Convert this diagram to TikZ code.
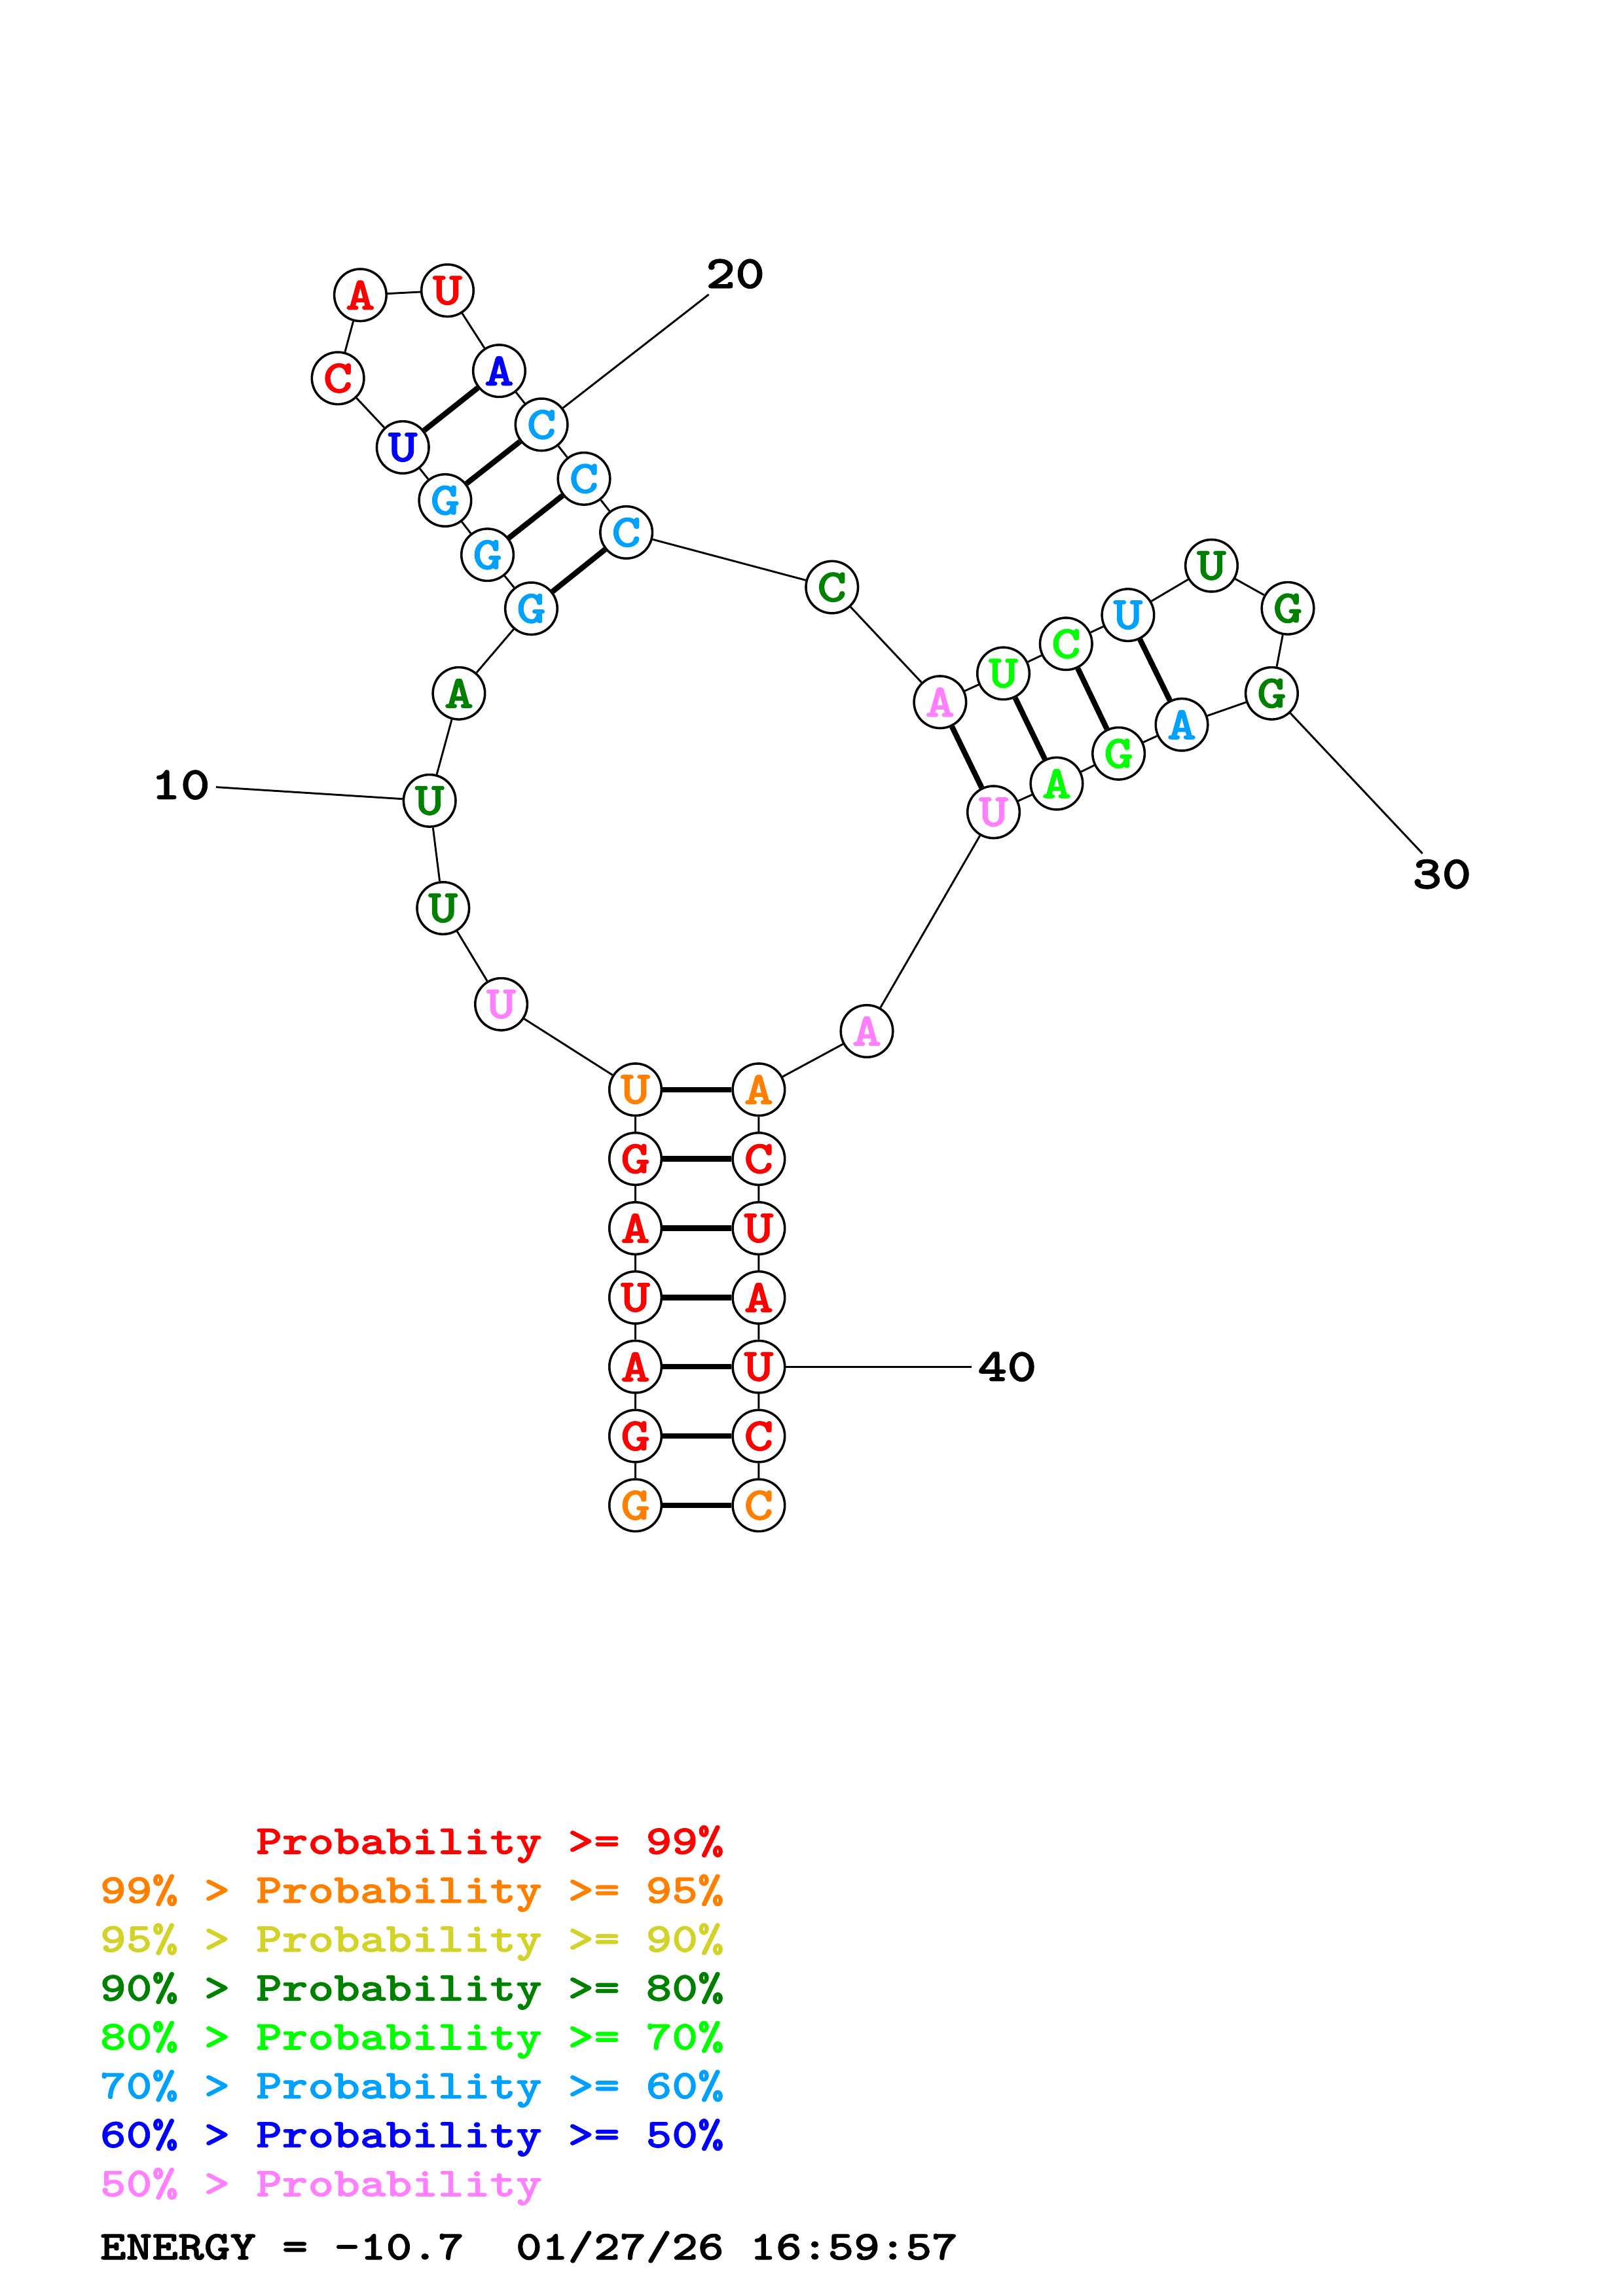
\documentclass[tikz,border=0pt]{standalone}
\usepackage{fontspec}
\newfontfamily\prfont{lmmonolt10-bold.otf}[FakeStretch=1.21, FakeBold=1.5]

\definecolor{pRed}{RGB}{255,0,0}
\definecolor{pOrange}{RGB}{255,128,0}
\definecolor{pYellow}{RGB}{210,210,40}
\definecolor{pDkGreen}{RGB}{0,128,0}
\definecolor{pGreen}{RGB}{0,255,0}
\definecolor{pCyan}{RGB}{0,160,255}
\definecolor{pBlue}{RGB}{0,0,255}
\definecolor{pPink}{RGB}{255,128,255}

\begin{document}
\begin{tikzpicture}[x=0.537pt, y=-0.537pt,
        nt/.style={circle, draw, line width=0.85pt, fill=white, minimum size=19.1pt, inner sep=0pt, font=\prfont\fontsize{17}{17}\selectfont},
        bb/.style={line width=0.7pt},
        bp/.style={line width=2pt},
        numlab/.style={inner sep=2pt, font=\prfont\fontsize{17}{17}\selectfont},
        lgd/.style={anchor=base west, inner sep=0pt, font=\prfont\fontsize{15}{15}\selectfont}]
        \useasboundingbox (0,0) rectangle (1108,1568);

        % stem 1-7, left strand
        \node[nt, text=pOrange] (n1) at (433.8,1028.0) {G};
        \node[nt, text=pRed] (n2) at (433.8,980.7) {G};
        \node[nt, text=pRed] (n3) at (433.8,933.4) {A};
        \node[nt, text=pRed] (n4) at (433.8,886.1) {U};
        \node[nt, text=pRed] (n5) at (433.8,838.8) {A};
        \node[nt, text=pRed] (n6) at (433.8,791.4) {G};
        \node[nt, text=pOrange] (n7) at (433.8,744.1) {U};

        % loop, left side
        \node[nt, text=pPink] (n8) at (342.2,685.8) {U};
        \node[nt, text=pDkGreen] (n9) at (302.5,620.2) {U};
        \node[nt, text=pDkGreen] (n10) at (293.3,546.8) {U};
        \node[nt, text=pDkGreen] (n11) at (313.3,473.5) {A};

        % hairpin 12-22
        \node[nt, text=pCyan] (n12) at (362.7,415.6) {G};
        \node[nt, text=pCyan] (n13) at (332.8,378.9) {G};
        \node[nt, text=pCyan] (n14) at (303.9,341.7) {G};
        \node[nt, text=pBlue] (n15) at (275.0,305.5) {U};
        \node[nt, text=pRed] (n16) at (230.7,258.3) {C};
        \node[nt, text=pRed] (n17) at (246.0,201.5) {A};
        \node[nt, text=pRed] (n18) at (305.5,198.4) {U};
        \node[nt, text=pBlue] (n19) at (340.8,253.3) {A};
        \node[nt, text=pCyan] (n20) at (369.7,290.0) {C};
        \node[nt, text=pCyan] (n21) at (398.7,326.9) {C};
        \node[nt, text=pCyan] (n22) at (427.6,363.6) {C};

        \node[nt, text=pDkGreen] (n23) at (568.0,401.0) {C};

        % hairpin 24-34
        \node[nt, text=pPink] (n24) at (641.8,479.5) {A};
        \node[nt, text=pGreen] (n25) at (685.0,459.9) {U};
        \node[nt, text=pGreen] (n26) at (727.8,439.7) {C};
        \node[nt, text=pCyan] (n27) at (770.1,420.0) {U};
        \node[nt, text=pDkGreen] (n28) at (827.1,386.3) {U};
        \node[nt, text=pDkGreen] (n29) at (879.2,415.4) {G};
        \node[nt, text=pDkGreen] (n30) at (868.2,473.5) {G};
        \node[nt, text=pCyan] (n31) at (806.8,494.9) {A};
        \node[nt, text=pGreen] (n32) at (763.7,514.6) {G};
        \node[nt, text=pGreen] (n33) at (721.4,535.1) {A};
        \node[nt, text=pPink] (n34) at (678.3,554.6) {U};

        \node[nt, text=pPink] (n35) at (591.8,704.2) {A};

        % stem 36-42, right strand
        \node[nt, text=pOrange] (n36) at (518.0,744.1) {A};
        \node[nt, text=pRed] (n37) at (518.0,791.4) {C};
        \node[nt, text=pRed] (n38) at (518.0,838.8) {U};
        \node[nt, text=pRed] (n39) at (518.0,886.1) {A};
        \node[nt, text=pRed] (n40) at (518.0,933.4) {U};
        \node[nt, text=pRed] (n41) at (518.0,980.7) {C};
        \node[nt, text=pOrange] (n42) at (518.0,1028.0) {C};

        % position numbers
        \node[numlab] (lab10) at (123.3,536.0) {10};
        \node[numlab] (lab20) at (502.0,187.0) {20};
        \node[numlab] (lab30) at (984.4,597.0) {30};
        \node[numlab] (lab40) at (687.6,933.4) {40};

        % backbone
        \draw[bb] (n1) -- (n2) -- (n3) -- (n4) -- (n5) -- (n6) -- (n7) -- (n8) -- (n9) -- (n10) -- (n11);
        \draw[bb] (n11) -- (n12) -- (n13) -- (n14) -- (n15) -- (n16) -- (n17) -- (n18) -- (n19) -- (n20) -- (n21) -- (n22);
        \draw[bb] (n22) -- (n23) -- (n24) -- (n25) -- (n26) -- (n27) -- (n28) -- (n29) -- (n30) -- (n31) -- (n32) -- (n33) -- (n34);
        \draw[bb] (n34) -- (n35) -- (n36) -- (n37) -- (n38) -- (n39) -- (n40) -- (n41) -- (n42);

        % base pairs
        \draw[bp] (n1) -- (n42);
        \draw[bp] (n2) -- (n41);
        \draw[bp] (n3) -- (n40);
        \draw[bp] (n4) -- (n39);
        \draw[bp] (n5) -- (n38);
        \draw[bp] (n6) -- (n37);
        \draw[bp] (n7) -- (n36);
        \draw[bp] (n12) -- (n22);
        \draw[bp] (n13) -- (n21);
        \draw[bp] (n14) -- (n20);
        \draw[bp] (n15) -- (n19);
        \draw[bp] (n24) -- (n34);
        \draw[bp] (n25) -- (n33);
        \draw[bp] (n26) -- (n32);
        \draw[bp] (n27) -- (n31);

        % number ticks
        \draw[bb] (n10) -- (lab10);
        \draw[bb] (n20) -- (lab20);
        \draw[bb] (n30) -- (lab30);
        \draw[bb] (n40) -- (lab40);

        % legend
        \node[lgd, text=pRed] (leg1) at (68,1266.0) {\phantom{99\% > }Probability >= 99\%};
        \node[lgd, text=pOrange] (leg2) at (68,1299.4) {99\% > Probability >= 95\%};
        \node[lgd, text=pYellow] (leg3) at (68,1332.8) {95\% > Probability >= 90\%};
        \node[lgd, text=pDkGreen] (leg4) at (68,1366.2) {90\% > Probability >= 80\%};
        \node[lgd, text=pGreen] (leg5) at (68,1399.6) {80\% > Probability >= 70\%};
        \node[lgd, text=pCyan] (leg6) at (68,1433.0) {70\% > Probability >= 60\%};
        \node[lgd, text=pBlue] (leg7) at (68,1466.4) {60\% > Probability >= 50\%};
        \node[lgd, text=pPink] (leg8) at (68,1499.8) {50\% > Probability};
        \node[lgd] (energy) at (68,1543.0) {ENERGY = -10.7~~01/27/26 16:59:57};
\end{tikzpicture}
\end{document}
